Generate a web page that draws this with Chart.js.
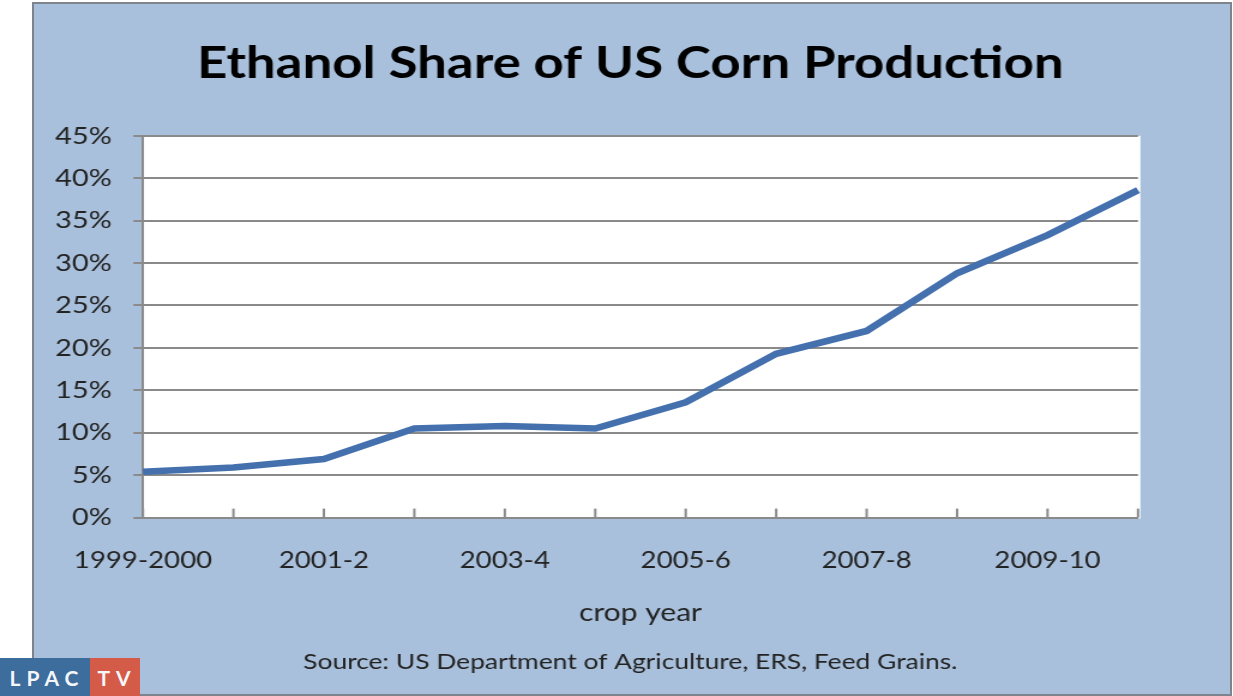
<!DOCTYPE html>
<html>
<head>
<meta charset="utf-8">
<script src="https://cdn.jsdelivr.net/npm/chart.js@4.4.1/dist/chart.umd.min.js"></script>
<style>
  html, body { margin: 0; padding: 0; background: #ffffff; width: 1233px; height: 696px; overflow: hidden; }
  #frame { position: absolute; left: 32px; top: 2px; width: 1196px; height: 690px; background: #a9c0dc; border: 2px solid #7d848e; }
  #wrap { position: absolute; left: 0; top: 0; width: 1028px; height: 696px; transform: scaleX(1.19942); transform-origin: 0 0; }
  #logo { position: absolute; left: 0; top: 658px; height: 38px; display: flex; font-family: Lato, sans-serif; font-weight: 700; font-size: 21px; color: #f4f6fa; letter-spacing: 6px; }
  #logo .a { background: #3d6d9d; width: 90px; display: flex; align-items: center; justify-content: center; padding-left: 4px; box-sizing: border-box; }
  #logo .b { background: #d55b49; width: 50px; display: flex; align-items: center; justify-content: center; padding-left: 4px; box-sizing: border-box; }
</style>
</head>
<body>
<div id="frame"></div>
<div id="wrap"><canvas id="c" width="1028" height="696"></canvas></div>
<div id="logo"><div class="a">LPAC</div><div class="b">TV</div></div>
<script>
const categories = ['1999-2000','2000-1','2001-2','2002-3','2003-4','2004-5','2005-6','2006-7','2007-8','2008-9','2009-10','2010-11'];
const ethanolShare = [5.4, 5.9, 6.9, 10.5, 10.8, 10.5, 13.6, 19.3, 22.0, 28.8, 33.3, 38.6];
const labeledCategories = ['1999-2000','2001-2','2003-4','2005-6','2007-8','2009-10'];
const yTickValues = [0, 5, 10, 15, 20, 25, 30, 35, 40, 45];
const titleText = 'Ethanol Share of US Corn Production';
const xAxisTitle = 'crop year';
const sourceText = 'Source: US Department of Agriculture, ERS, Feed Grains.';

const FONT = 'Lato, Calibri, sans-serif';
const GRID = '#8a8a8a';
const TEXT = '#222222';

const plotBackground = {
  id: 'plotBackground',
  beforeDraw(chart) {
    const a = chart.chartArea, ctx = chart.ctx;
    ctx.save();
    ctx.fillStyle = '#ffffff';
    ctx.fillRect(a.left, a.top, a.right - a.left + 2, a.bottom - a.top + 1);
    ctx.restore();
  }
};
const innerTicks = {
  id: 'innerTicks',
  beforeDatasetsDraw(chart) {
    const x = chart.scales.x, ctx = chart.ctx, b = chart.chartArea.bottom;
    ctx.save();
    ctx.strokeStyle = GRID;
    ctx.lineWidth = 2;
    for (let i = 0; i < categories.length; i++) {
      const px = x.getPixelForTick(i);
      ctx.beginPath();
      ctx.moveTo(px, b);
      ctx.lineTo(px, b - 9);
      ctx.stroke();
    }
    ctx.restore();
  }
};

new Chart(document.getElementById('c'), {
  type: 'line',
  data: {
    labels: categories,
    datasets: [{
      data: ethanolShare,
      borderColor: '#4470ae',
      borderWidth: 6.5,
      pointRadius: 0,
      tension: 0,
      fill: false,
      yAxisID: 'y'
    }]
  },
  options: {
    responsive: false,
    animation: false,
    devicePixelRatio: 1,
    layout: { padding: { left: 23, right: 0, top: 0, bottom: 21 } },
    plugins: {
      legend: { display: false },
      tooltip: { enabled: false },
      title: {
        display: true,
        text: titleText,
        color: '#000000',
        font: { family: FONT, size: 44, weight: 'bold' },
        padding: { top: 37, bottom: 46 }
      },
      subtitle: {
        display: true,
        position: 'bottom',
        text: sourceText,
        color: TEXT,
        font: { family: FONT, size: 22 },
        padding: { top: 0, bottom: 0 }
      }
    },
    scales: {
      x: {
        type: 'category',
        offset: false,
        afterFit(scale) { scale.height = 131; },
        grid: { display: false, drawTicks: false },
        border: { display: true, color: GRID, width: 2 },
        ticks: {
          autoSkip: false,
          maxRotation: 0,
          padding: 29,
          color: TEXT,
          font: { family: FONT, size: 23 },
          callback: function(v, i) { const l = categories[i]; return labeledCategories.includes(l) ? l : ''; }
        },
        title: {
          display: true,
          text: xAxisTitle,
          color: TEXT,
          font: { family: FONT, size: 25 },
          padding: { top: 0, bottom: 21 }
        }
      },
      y: {
        position: 'left',
        min: 0,
        max: 45,
        afterFit(scale) { scale.width = 96.2; },
        afterBuildTicks(scale) { scale.ticks = yTickValues.map(v => ({ value: v })); },
        grid: { color: GRID, lineWidth: 2, tickLength: 8, drawTicks: true },
        border: { display: true, color: GRID, width: 2 },
        ticks: {
          padding: 18,
          color: TEXT,
          font: { family: FONT, size: 24 },
          callback: v => v + '%'
        }
      },
      yRight: {
        position: 'right',
        min: 0,
        max: 45,
        afterFit(scale) { scale.width = 79.2; },
        grid: { drawOnChartArea: false, drawTicks: false },
        border: { display: false },
        ticks: { display: false }
      }
    }
  },
  plugins: [plotBackground, innerTicks]
});
</script>
</body>
</html>
